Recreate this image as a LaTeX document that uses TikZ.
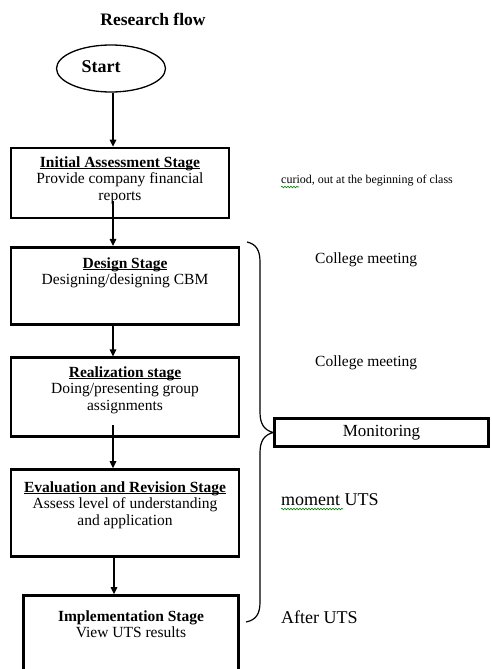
\documentclass[tikz,border=0pt]{standalone}
\usepackage{fontspec}
\setmainfont{Liberation Serif}
\usetikzlibrary{arrows.meta,shapes.geometric,decorations.pathmorphing,calc}
\newcommand{\stul}[1]{\setbox0\hbox{#1}\rlap{\rule[-1.6pt]{\wd0}{0.8pt}}\box0}
\begin{document}
\begin{tikzpicture}[x=1pt,y=-1pt,
 stagebox/.style={draw,line width=2.8pt,inner sep=0pt},
 flow/.style={line width=1.4pt,-{Triangle[length=7pt,width=6.5pt]}},
 body/.style={font=\fontsize{15.5}{16.5}\selectfont,align=center,inner sep=0pt,anchor=north},
 side/.style={anchor=west,inner sep=0pt},
 squig/.style={draw=green!50!black,line width=0.6pt,decorate,decoration={snake,amplitude=0.8pt,segment length=3pt}}
]
\useasboundingbox (0,0) rectangle (491,669);

\node[font=\bfseries\fontsize{17.5}{20}\selectfont] (title) at (153,19) {Research flow};

\node[draw,ellipse,line width=1.3pt,minimum width=109pt,minimum height=47pt,inner sep=0pt] (start) at (111,68.5) {};
\node[font=\bfseries\fontsize{18}{20}\selectfont] (starttext) at (101,67) {Start};

\node[stagebox,minimum width=218pt,minimum height=70pt] (b1) at (120,183) {};
\node[body] (t1) at (120,156.5) {\textbf{\stul{Initial Assessment Stage}}\\Provide company financial\\reports};

\node[stagebox,minimum width=228pt,minimum height=77.5pt] (b2) at (125,286) {};
\node[body] (t2) at (125,257.5) {\textbf{\stul{Design Stage}}\\Designing/designing CBM};

\node[stagebox,minimum width=228pt,minimum height=78.5pt] (b3) at (125,397) {};
\node[body] (t3) at (125,366.5) {\textbf{\stul{Realization stage}}\\Doing/presenting group\\assignments};

\node[stagebox,minimum width=228pt,minimum height=87pt] (b4) at (125,513) {};
\node[body] (t4) at (125,481.5) {\textbf{\stul{Evaluation and Revision Stage}}\\Assess level of understanding\\and application};

\node[stagebox,minimum width=215pt,minimum height=94.5pt] (b5) at (131,642.75) {};
\node[body] (t5) at (131,610.5) {\textbf{Implementation Stage}\\View UTS results};

\coordinate (s1) at (113,201);
\coordinate (s3) at (113,425);
\draw[flow] (start.south -| s1) -- (b1.north -| s1);
\draw[flow] (s1) -- (b2.north -| s1);
\draw[flow] (b2.south -| s1) -- (b3.north -| s1);
\draw[flow] (s3) -- (b4.north -| s1);
\draw[flow] ($(b4.south -| s1)+(1,0)$) -- ($(b5.north -| s1)+(1,0)$);

\node[draw,line width=2.6pt,minimum width=214pt,minimum height=28pt,inner sep=0pt,font=\fontsize{17}{19}\selectfont] (mon) at (381.5,432.5) {Monitoring};

\coordinate (bt) at (247,242);
\coordinate (bb) at (246,622);
\draw[line width=1.2pt] (bt) .. controls (256,244) and (260,250) .. (260,262) -- (260,412) .. controls (260,424) and (264,430) .. (mon.west) .. controls (264,435) and (260,441) .. (260,453) -- (260,602) .. controls (260,614) and (256,620) .. (bb);

\node[side,font=\fontsize{12}{14}\selectfont] (note) at (281,181) {curiod, out at the beginning of class};
\node[side,font=\fontsize{15.5}{17}\selectfont] (cm1) at (315,260) {College meeting};
\node[side,font=\fontsize{15.5}{17}\selectfont] (cm2) at (315,363) {College meeting};
\node[side,font=\fontsize{18}{20}\selectfont] (mom) at (281,500) {moment UTS};
\node[side,font=\fontsize{18}{20}\selectfont] (after) at (281,617) {After UTS};

\draw[squig] (281,187) -- (299,187);
\draw[squig] (281,509) -- (343,509);
\end{tikzpicture}
\end{document}
